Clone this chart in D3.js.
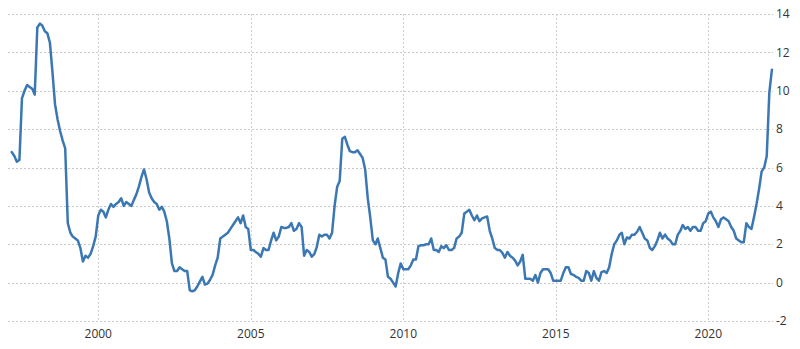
<!DOCTYPE html>
<html>
<head>
<meta charset="utf-8">
<script src="https://cdn.jsdelivr.net/npm/d3@7"></script>
<style>
  body { margin: 0; background: #fff; }
  svg text { font-family: "Open Sans", "Liberation Sans", Arial, sans-serif; font-size: 12px; fill: #333; }
</style>
</head>
<body>
<svg id="chart" width="800" height="349"></svg>
<script>
// monthly inflation rate (%), Mar 1997 .. Feb 2022
const firstYear = 1997, firstMonth = 2; // March (0-based)
const rate = [
  6.8, 6.6, 6.3, 6.4, 9.6, 10.0, 10.3, 10.2, 10.1, 9.8,
  13.3, 13.5, 13.4, 13.1, 13.0, 12.5, 11.0, 9.3, 8.5, 7.9, 7.4, 7.0,
  3.1, 2.6, 2.4, 2.3, 2.2, 1.8, 1.1, 1.4, 1.3, 1.5, 1.9, 2.4,
  3.5, 3.8, 3.7, 3.4, 3.8, 4.1, 3.95, 4.1, 4.2, 4.4, 4.0, 4.2,
  4.1, 4.0, 4.3, 4.6, 5.0, 5.5, 5.9, 5.4, 4.7, 4.4, 4.2, 4.1,
  3.8, 3.95, 3.7, 3.2, 2.3, 1.0, 0.6, 0.6, 0.8, 0.7, 0.6, 0.6,
  -0.4, -0.45, -0.4, -0.2, 0.05, 0.3, -0.1, -0.05, 0.15, 0.4, 0.9, 1.3,
  2.3, 2.4, 2.5, 2.6, 2.8, 3.0, 3.2, 3.4, 3.1, 3.5, 2.9, 2.8,
  1.7, 1.7, 1.6, 1.5, 1.35, 1.8, 1.7, 1.7, 2.2, 2.6, 2.2, 2.4,
  2.9, 2.85, 2.85, 2.9, 3.1, 2.7, 2.8, 3.1, 2.9, 1.4, 1.7, 1.6,
  1.35, 1.5, 1.85, 2.5, 2.4, 2.5, 2.5, 2.3, 2.6, 4.0, 5.0, 5.3,
  7.5, 7.6, 7.2, 6.85, 6.8, 6.8, 6.9, 6.7, 6.5, 5.9, 4.4, 3.4,
  2.2, 2.0, 2.3, 1.8, 1.3, 1.2, 0.3, 0.2, 0.0, -0.2, 0.5, 1.0,
  0.7, 0.7, 0.7, 0.9, 1.2, 1.2, 1.9, 1.95, 1.95, 2.0, 2.0, 2.3,
  1.7, 1.7, 1.6, 1.9, 1.8, 1.95, 1.7, 1.7, 1.8, 2.3, 2.4, 2.6,
  3.6, 3.7, 3.8, 3.5, 3.25, 3.5, 3.2, 3.35, 3.4, 3.45, 2.7, 2.3,
  1.8, 1.7, 1.7, 1.55, 1.3, 1.6, 1.4, 1.3, 1.15, 0.9, 1.1, 1.45,
  0.2, 0.2, 0.2, 0.1, 0.4, 0.0, 0.5, 0.7, 0.7, 0.7, 0.5, 0.1,
  0.1, 0.1, 0.1, 0.5, 0.8, 0.8, 0.45, 0.4, 0.3, 0.25, 0.1, 0.1,
  0.6, 0.5, 0.1, 0.6, 0.25, 0.1, 0.55, 0.6, 0.5, 0.8, 1.5, 2.0,
  2.2, 2.5, 2.6, 2.0, 2.35, 2.3, 2.5, 2.5, 2.65, 2.9, 2.6, 2.3,
  2.2, 1.8, 1.7, 1.9, 2.2, 2.6, 2.3, 2.5, 2.3, 2.2, 2.0, 2.0,
  2.5, 2.7, 3.0, 2.8, 2.9, 2.7, 2.9, 2.9, 2.7, 2.7, 3.1, 3.2,
  3.6, 3.7, 3.4, 3.2, 2.9, 3.3, 3.4, 3.3, 3.2, 2.9, 2.7, 2.3,
  2.2, 2.1, 2.1, 3.1, 2.9, 2.8, 3.4, 4.1, 4.9, 5.8, 6.0, 6.6,
  9.9, 11.1
];
const yTicks = [-2, 0, 2, 4, 6, 8, 10, 12, 14];
const xTickYears = [2000, 2005, 2010, 2015, 2020];

const svg = d3.select("svg#chart");
const plotLeft = 8, plotRight = 773, plotTop = 14, plotBottom = 321;

const data = rate.map((v, i) => ({
  date: new Date(firstYear, firstMonth + i, 1),
  value: v
}));

const x = d3.scaleTime()
    .domain([new Date(1997, 0, 15), new Date(2022, 1, 14)])
    .range([plotLeft, plotRight]);
const y = d3.scaleLinear()
    .domain([-2, 14])
    .range([plotBottom, plotTop]);

// horizontal grid
svg.append("g")
    .selectAll("line")
    .data(yTicks)
    .enter().append("line")
      .attr("x1", plotLeft)
      .attr("x2", plotRight)
      .attr("y1", d => Math.round(y(d)) + 0.5)
      .attr("y2", d => Math.round(y(d)) + 0.5)
      .attr("stroke", "#c8c8c8")
      .attr("stroke-dasharray", "2,2");

// vertical grid
svg.append("g")
    .selectAll("line")
    .data(xTickYears)
    .enter().append("line")
      .attr("x1", d => Math.round(x(new Date(d, 0, 1))) + 0.5)
      .attr("x2", d => Math.round(x(new Date(d, 0, 1))) + 0.5)
      .attr("y1", plotTop)
      .attr("y2", plotBottom)
      .attr("stroke", "#d0d0d0")
      .attr("stroke-dasharray", "2,2");

// right axis labels
svg.append("g")
    .selectAll("text")
    .data(yTicks)
    .enter().append("text")
      .attr("x", 776)
      .attr("y", d => y(d))
      .attr("dy", "0.35em")
      .text(d => d);

// bottom axis labels
svg.append("g")
    .selectAll("text")
    .data(xTickYears)
    .enter().append("text")
      .attr("x", d => x(new Date(d, 0, 1)))
      .attr("y", 338)
      .attr("text-anchor", "middle")
      .text(d => d);

const line = d3.line()
    .x(d => x(d.date))
    .y(d => y(d.value));

svg.append("path")
    .datum(data)
    .attr("fill", "none")
    .attr("stroke", "#3b78b3")
    .attr("stroke-width", 2.5)
    .attr("stroke-linejoin", "round")
    .attr("stroke-linecap", "round")
    .attr("d", line);
</script>
</body>
</html>
